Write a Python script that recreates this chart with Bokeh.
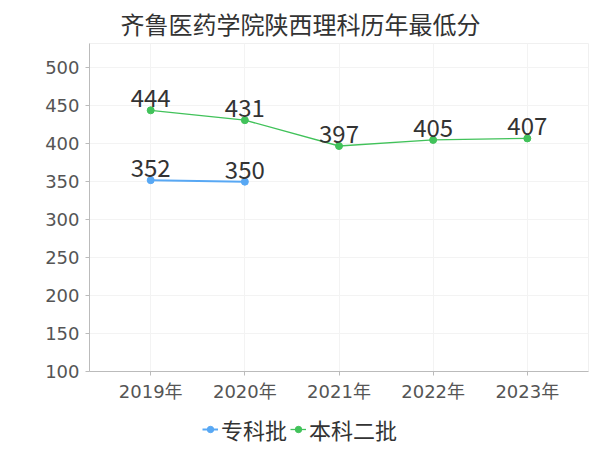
from bokeh.plotting import figure
from bokeh.layouts import column
from bokeh.models import ColumnDataSource, FixedTicker, Range1d, FactorRange, Legend, LegendItem
from bokeh.core.properties import value
from bokeh.embed import file_html
from bokeh.resources import INLINE

title = "齐鲁医药学院陕西理科历年最低分"
years = ["2019年", "2020年", "2021年", "2022年", "2023年"]
zk_years = ["2019年", "2020年"]
zk_scores = [352, 350]
bk_years = ["2019年", "2020年", "2021年", "2022年", "2023年"]
bk_scores = [444, 431, 397, 405, 407]
y_ticks = [100, 150, 200, 250, 300, 350, 400, 450, 500]
series_names = ["专科批", "本科二批"]

BLUE = "#58a8f4"
GREEN = "#41c25a"
FONT = "DejaVu Sans, Noto Sans CJK SC"
CJK = "Noto Sans CJK SC"

p = figure(width=592, height=405, output_backend="svg", toolbar_location=None,
           x_range=FactorRange(*years, range_padding=0.06, range_padding_units="percent"),
           y_range=Range1d(100, 532),
           min_border_left=89, min_border_right=4, min_border_top=43, min_border_bottom=34)

p.title.text = title
p.title.align = "left"
p.title.offset = 31
p.title.standoff = 6
p.title.text_font = CJK
p.title.text_font_size = "24px"
p.title.text_font_style = "normal"
p.title.text_color = "#333333"

p.outline_line_color = "#f0f0f0"
p.xgrid.grid_line_color = "#f3f3f3"
p.ygrid.grid_line_color = "#f3f3f3"
p.yaxis.ticker = FixedTicker(ticks=y_ticks)
p.yaxis.major_label_text_font = FONT
p.yaxis.major_label_text_font_size = "18px"
p.yaxis.major_label_text_color = "#555555"
p.xaxis.major_label_text_font = FONT
p.xaxis.major_label_text_font_size = "18px"
p.xaxis.major_label_text_color = "#555555"
for ax in (p.xaxis, p.yaxis):
    ax.axis_line_color = "#bbbbbb"
    ax.major_tick_line_color = "#bbbbbb"
    ax.minor_tick_line_color = None
    ax.major_tick_out = 4
    ax.major_tick_in = 0
p.yaxis.major_label_standoff = 6
p.xaxis.major_label_standoff = 5

src_zk = ColumnDataSource(dict(x=zk_years, y=zk_scores, t=[str(v) for v in zk_scores]))
src_bk = ColumnDataSource(dict(x=bk_years, y=bk_scores, t=[str(v) for v in bk_scores]))

p.line("x", "y", source=src_zk, line_color=BLUE, line_width=2)
p.scatter("x", "y", source=src_zk, size=7, fill_color=BLUE, line_color=BLUE)
p.line("x", "y", source=src_bk, line_color=GREEN, line_width=1.3)
p.scatter("x", "y", source=src_bk, size=7, fill_color=GREEN, line_color=GREEN)

for src in (src_zk, src_bk):
    p.text("x", "y", text="t", source=src, text_align="center", text_baseline="middle",
           y_offset=-12, text_font=value(CJK), text_font_size="24px", text_color="#333333")

# legend strip below the chart (same series, drawn out of view so only the legend shows)
lg = figure(width=592, height=42, output_backend="svg", toolbar_location=None,
            x_range=FactorRange(*years), y_range=Range1d(0, 1),
            x_axis_type=None, y_axis_type=None, min_border=0,
            min_border_left=0, min_border_right=0, min_border_top=0, min_border_bottom=0)
lg.grid.visible = False
lg.outline_line_color = None
d1 = lg.line("x", "y", source=src_zk, line_color=BLUE, line_width=2)
e1 = lg.scatter("x", "y", source=src_zk, size=7, fill_color=BLUE, line_color=BLUE)
d2 = lg.line("x", "y", source=src_bk, line_color=GREEN, line_width=1.3)
e2 = lg.scatter("x", "y", source=src_bk, size=7, fill_color=GREEN, line_color=GREEN)

legend = Legend(items=[LegendItem(label=series_names[0], renderers=[d1, e1]),
                       LegendItem(label=series_names[1], renderers=[d2, e2])],
                orientation="horizontal", location=(113, 2))
legend.label_text_font = CJK
legend.label_text_font_size = "22px"
legend.label_text_color = "#333333"
legend.border_line_color = None
legend.background_fill_alpha = 0
legend.glyph_width = 16
legend.spacing = 3
legend.label_standoff = 3
legend.padding = 0
legend.margin = 0
lg.add_layout(legend)

layout = column(p, lg, spacing=0)
open("out.html", "w").write(file_html(layout, INLINE))
